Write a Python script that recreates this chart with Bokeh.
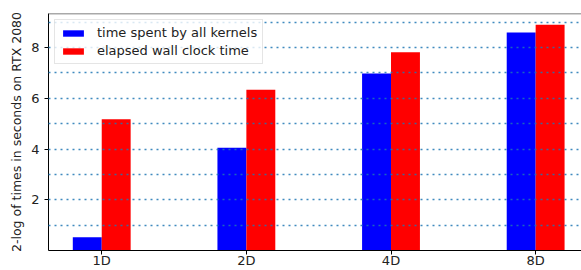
from bokeh.plotting import figure
from bokeh.models import ColumnDataSource, Range1d, FixedTicker, Span, Legend, LegendItem
from bokeh.transform import dodge
from bokeh.embed import file_html
from bokeh.resources import INLINE

categories = ["1D", "2D", "4D", "8D"]
kernel_times = [0.52, 4.05, 6.98, 8.6]
wall_times = [5.18, 6.34, 7.82, 8.9]
y_ticks = [2, 4, 6, 8]
grid_ticks = [1, 2, 3, 4, 5, 6, 7, 8, 9]

src = ColumnDataSource(dict(
    x=list(range(len(categories))),
    kernel=kernel_times,
    wall=wall_times,
))

FONT = "DejaVu Sans"

p = figure(width=581, height=270, output_backend="svg", toolbar_location=None,
           x_range=Range1d(-0.368, 3.317), y_range=Range1d(0, 9.345),
           min_border_left=48, min_border_right=0, min_border_top=13, min_border_bottom=0)
p.outline_line_color = None
p.background_fill_color = "white"

r1 = p.vbar(x=dodge("x", -0.1), top="kernel", width=0.2, source=src,
            fill_color="#0000ff", line_color=None)
r2 = p.vbar(x=dodge("x", 0.1), top="wall", width=0.2, source=src,
            fill_color="#ff0000", line_color=None)

p.xgrid.visible = False
p.ygrid.ticker = FixedTicker(ticks=grid_ticks)
p.ygrid.grid_line_color = "#1f77b4"
p.ygrid.grid_line_alpha = 0.85
p.ygrid.grid_line_width = 1.5
p.ygrid.grid_line_dash = "2 4"
p.ygrid.level = "guide"

p.xaxis.ticker = FixedTicker(ticks=list(range(len(categories))))
p.xaxis.major_label_overrides = {i: c for i, c in enumerate(categories)}
p.yaxis.ticker = FixedTicker(ticks=y_ticks)
p.yaxis.axis_label = "2-log of times in seconds on RTX 2080"

for ax in (p.xaxis[0], p.yaxis[0]):
    ax.axis_line_color = "black"
    ax.axis_line_width = 1
    ax.major_tick_line_color = "black"
    ax.major_tick_out = 4
    ax.major_tick_in = 0
    ax.minor_tick_line_color = None
    ax.major_label_text_font = FONT
    ax.major_label_text_font_size = "13px"
    ax.major_label_text_color = "#222222"
    ax.axis_label_text_font = FONT
    ax.axis_label_text_font_style = "normal"
    ax.axis_label_text_color = "#222222"

p.xaxis[0].major_label_standoff = -2
p.xaxis[0].axis_label_standoff = 0
p.yaxis[0].major_label_standoff = 5
p.yaxis[0].axis_label_standoff = 4
p.yaxis[0].axis_label_text_font_size = "12.5px"

top_spine = Span(location=9.345, dimension="width", line_color="#555555", line_width=1.5)
p.add_layout(top_spine)

legend = Legend(items=[
    LegendItem(label="time spent by all kernels", renderers=[r1]),
    LegendItem(label="elapsed wall clock time", renderers=[r2]),
], location="top_left")
legend.margin = 6
legend.padding = 5
legend.spacing = 3
legend.glyph_width = 26
legend.glyph_height = 8
legend.label_height = 8
legend.label_standoff = 11
legend.label_text_font = FONT
legend.label_text_font_size = "13px"
legend.label_text_color = "#222222"
legend.border_line_color = "#cccccc"
legend.border_line_width = 1
legend.background_fill_color = "white"
legend.background_fill_alpha = 0.8
p.add_layout(legend)

open("out.html", "w").write(file_html(p, INLINE))
